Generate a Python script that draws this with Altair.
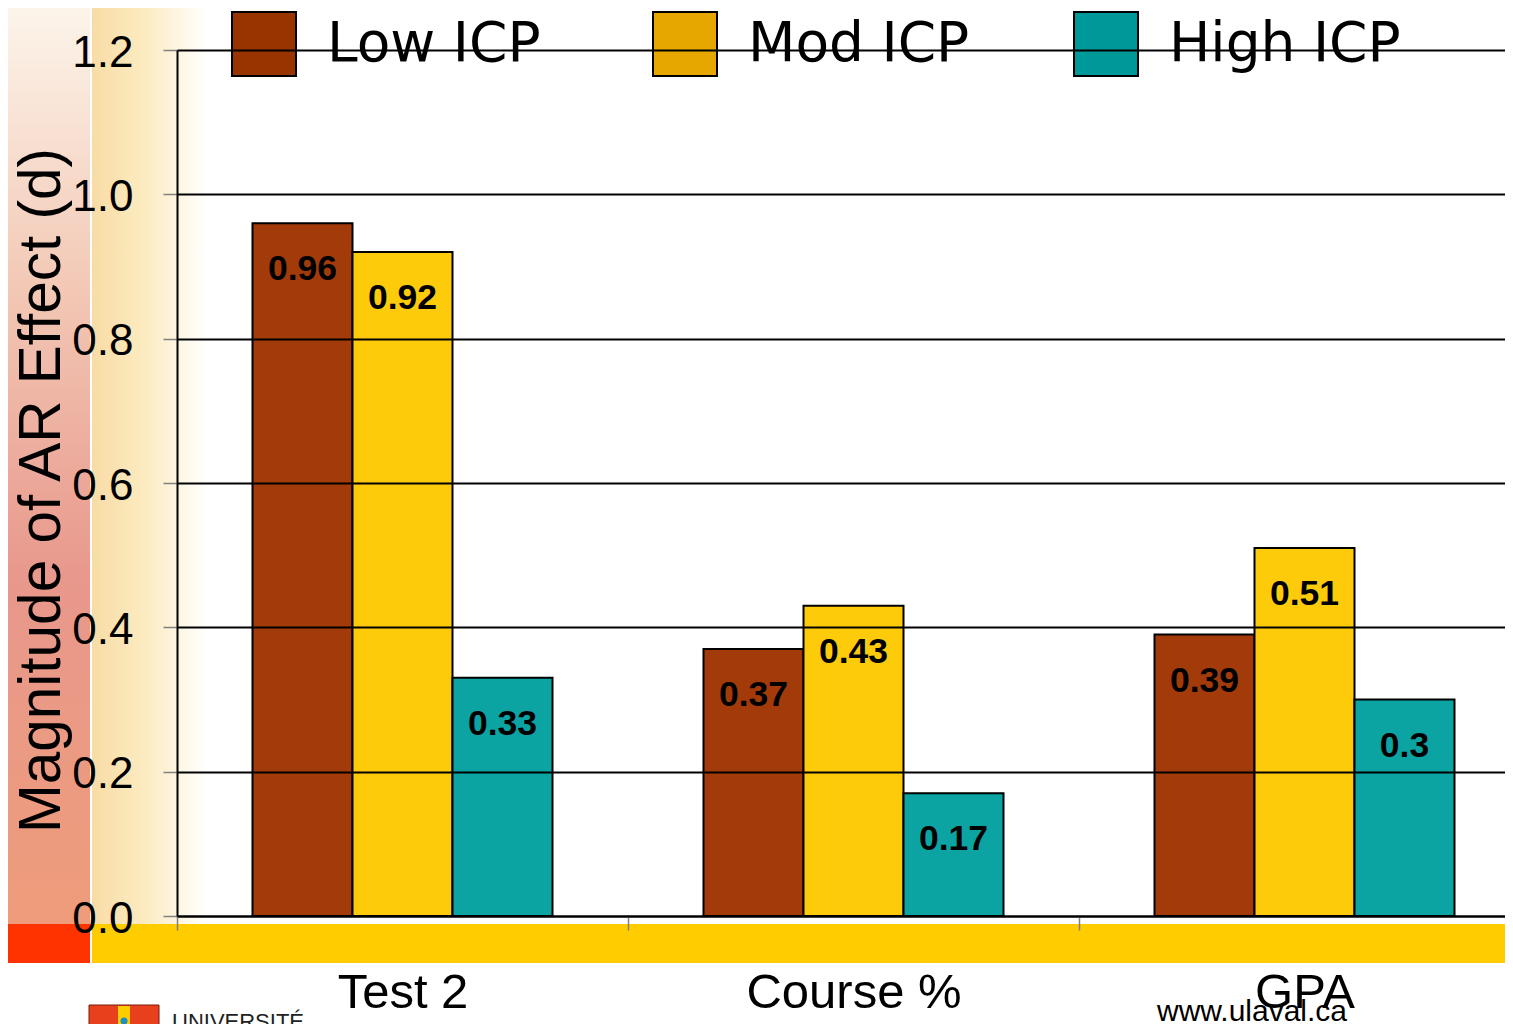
import altair as alt
import pandas as pd

categories = ["Test 2", "Course %", "GPA"]
series = ["Low ICP", "Mod ICP", "High ICP"]
low_icp = [0.96, 0.37, 0.39]
mod_icp = [0.92, 0.43, 0.51]
high_icp = [0.33, 0.17, 0.30]
y_ticks = [0.0, 0.2, 0.4, 0.6, 0.8, 1.0, 1.2]

bar_colors = ["#A33A0A", "#FECB0A", "#0CA3A3"]
legend_colors = ["#993300", "#E6A800", "#009999"]

footer_site = "www.ulaval.ca"
footer_univ = "UNIVERSITÉ"

rows = []
for s, vals in zip(series, [low_icp, mod_icp, high_icp]):
    for c, v in zip(categories, vals):
        rows.append({"category": c, "series": s, "value": v})
df = pd.DataFrame(rows)
one = pd.DataFrame({"k": [0]})

FONT = "Liberation Sans"

x_enc = alt.X(
    "category:N", sort=categories,
    scale=alt.Scale(range=[0, 1353], paddingInner=0, paddingOuter=0),
    axis=alt.Axis(title=None, labelAngle=0, labelFontSize=49, labelFont=FONT,
                  labelColor="black", labelPadding=38, labelLimit=500, tickSize=14,
                  tickColor="#808080", tickWidth=1.5, tickBand="extent",
                  domainColor="black", domainWidth=2, grid=False, zindex=1),
)
x_off = alt.XOffset("series:N", sort=series,
                    scale=alt.Scale(paddingInner=0, paddingOuter=0.755))
y_enc = alt.Y(
    "value:Q", scale=alt.Scale(domain=[0, 1.2], nice=False),
    axis=alt.Axis(values=y_ticks, format=".1f", title="Magnitude of AR Effect (d)",
                  titleFontSize=58.5, titleFont=FONT, titleFontWeight="normal",
                  titleColor="black", titlePadding=0, titleY=440, labelFontSize=44,
                  labelFont=FONT, labelColor="black", labelPadding=30, labelOffset=3,
                  tickSize=14, tickColor="#808080", tickWidth=1.5,
                  domainColor="black", domainWidth=2, grid=True,
                  gridColor="black", gridWidth=2, zindex=1),
)

left_grad = alt.LinearGradient(
    gradient="linear", x1=0, x2=0, y1=0, y2=1,
    stops=[alt.GradientStop(offset=0, color="#FCF4EA"),
           alt.GradientStop(offset=0.3, color="#F3C9B6"),
           alt.GradientStop(offset=0.62, color="#E8988C"),
           alt.GradientStop(offset=1, color="#EE9C7A")])
cream_grad = alt.LinearGradient(
    gradient="linear", x1=0, x2=1, y1=0, y2=0,
    stops=[alt.GradientStop(offset=0, color="#F8DCA6"),
           alt.GradientStop(offset=0.45, color="#FCEBC0"),
           alt.GradientStop(offset=1, color="#FFFFFF")])

deco_left = alt.Chart(one).mark_rect(color=left_grad).encode(
    x=alt.value(-169), x2=alt.value(-87), y=alt.value(-42), y2=alt.value(874))
deco_cream = alt.Chart(one).mark_rect(color=cream_grad).encode(
    x=alt.value(-85), x2=alt.value(30), y=alt.value(-42), y2=alt.value(874))
deco_red = alt.Chart(one).mark_rect(color="#FF3300").encode(
    x=alt.value(-169), x2=alt.value(-87), y=alt.value(874), y2=alt.value(913))
deco_yellow = alt.Chart(one).mark_rect(color="#FFCC00").encode(
    x=alt.value(-85), x2=alt.value(1400), y=alt.value(874), y2=alt.value(913))
deco_crest = alt.Chart(one).mark_rect(color="#E8401C", stroke="#7A1A0A", strokeWidth=1).encode(
    x=alt.value(-88), x2=alt.value(-18), y=alt.value(955), y2=alt.value(990))
deco_crest_band = alt.Chart(one).mark_rect(color="#FFCC00").encode(
    x=alt.value(-59), x2=alt.value(-47), y=alt.value(956), y2=alt.value(989))
deco_crest_dot = alt.Chart(one).mark_point(filled=True, color="#1E8FC0", size=50, opacity=1).encode(
    x=alt.value(-53), y=alt.value(971))
deco_site = alt.Chart(one).mark_text(font=FONT, fontSize=30, color="black",
                                     align="center", baseline="alphabetic",
                                     text=footer_site).encode(
    x=alt.value(1075), y=alt.value(971))
deco_univ = alt.Chart(one).mark_text(font=FONT, fontSize=22, color="#222222",
                                     align="left", baseline="top",
                                     text=footer_univ).encode(
    x=alt.value(-5), y=alt.value(962))

bars = alt.Chart(df).mark_bar(stroke="black", strokeWidth=2).encode(
    x=x_enc, xOffset=x_off, y=y_enc,
    color=alt.Color("series:N", sort=series,
                    scale=alt.Scale(domain=series, range=bar_colors), legend=None),
)

labels = alt.Chart(df).mark_text(font=FONT, fontWeight="bold", fontSize=35.5,
                                 baseline="middle", dy=46, color="black").encode(
    x=x_enc, xOffset=x_off, y=y_enc, text=alt.Text("value:Q"))

legend_layer = alt.Chart(df).mark_square(opacity=0, size=10).encode(
    x=x_enc, xOffset=x_off, y=y_enc,
    color=alt.Color("series:N", sort=series,
                    scale=alt.Scale(domain=series, range=legend_colors),
                    legend=alt.Legend(title=None, orient="none", legendX=54, legendY=-39,
                                      direction="horizontal", symbolType="square",
                                      symbolSize=4096, symbolStrokeColor="black",
                                      symbolStrokeWidth=2, symbolOpacity=1,
                                      labelFontSize=55, labelFont="DejaVu Sans",
                                      labelColor="black", labelOffset=30, labelLimit=600,
                                      columnPadding=90, gridAlign="all", padding=0)),
)

chart = alt.layer(deco_left, deco_cream, deco_red, deco_yellow, deco_crest, deco_crest_band,
                  deco_crest_dot, deco_univ, deco_site, bars, labels, legend_layer).resolve_scale(
    color="independent"
).properties(
    width=1328, height=866,
    padding={"left": 169, "top": 42, "right": 0, "bottom": 108},
    autosize=alt.AutoSizeParams(type="none"),
    background="white",
).configure_view(stroke=None)

chart.save("out.html", embed_options={"renderer": "svg", "actions": False})
